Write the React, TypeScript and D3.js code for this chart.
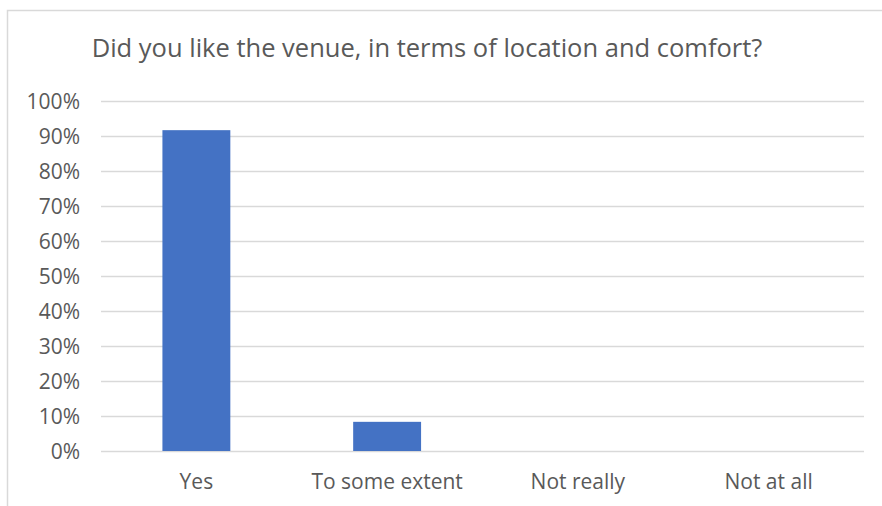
import { useEffect, useRef } from "react";
import * as d3 from "d3";

const title = "Did you like the venue, in terms of location and comfort?";
const categories = ["Yes", "To some extent", "Not really", "Not at all"];
const shares = [11 / 12, 1 / 12, 0, 0];
const yTicks = [0, 0.1, 0.2, 0.3, 0.4, 0.5, 0.6, 0.7, 0.8, 0.9, 1];

const width = 882;
const height = 506;
const margin = { top: 101, right: 18, bottom: 55, left: 101 };
const font = "'Open Sans', sans-serif";
const textColor = "#595959";
const gridColor = "#d9d9d9";
const barColor = "#4472c4";

const App = () => {
  const ref = useRef<SVGSVGElement>(null);

  useEffect(() => {
    const svg = d3.select(ref.current);
    svg.selectAll("*").remove();

    const x = d3
      .scaleBand()
      .domain(categories)
      .range([margin.left, width - margin.right])
      .paddingInner(0.644)
      .paddingOuter(0.322);
    const y = d3
      .scaleLinear()
      .domain([0, 1])
      .range([height - margin.bottom, margin.top]);

    // chart frame (right and bottom edges fall outside the crop)
    svg
      .append("rect")
      .attr("x", 7.5)
      .attr("y", 10.5)
      .attr("width", width + 20)
      .attr("height", height + 20)
      .attr("fill", "#fff")
      .attr("stroke", gridColor)
      .attr("stroke-width", 1.5);

    svg
      .append("text")
      .attr("x", 427)
      .attr("y", 57)
      .attr("text-anchor", "middle")
      .attr("font-family", font)
      .attr("font-size", 25.5)
      .attr("fill", textColor)
      .text(title);

    // gridlines + tick labels
    const yAxis = d3
      .axisLeft(y)
      .tickValues(yTicks)
      .tickFormat(d3.format(".0%"))
      .tickSize(-(width - margin.right - margin.left))
      .tickPadding(21);
    const gy = svg
      .append("g")
      .attr("transform", `translate(${margin.left},0)`)
      .call(yAxis);
    gy.select(".domain").remove();
    gy.selectAll(".tick line")
      .attr("stroke", gridColor)
      .attr("stroke-width", 1.5);
    gy.selectAll(".tick text")
      .attr("font-family", font)
      .attr("font-size", 21)
      .attr("fill", textColor)
      .attr("dy", "0.36em");

    svg
      .append("g")
      .selectAll("rect")
      .data(shares)
      .join("rect")
      .attr("x", (_, i) => x(categories[i])!)
      .attr("width", x.bandwidth())
      .attr("y", (d) => y(d))
      .attr("height", (d) => y(0) - y(d))
      .attr("fill", barColor);

    svg
      .append("g")
      .selectAll("text")
      .data(categories)
      .join("text")
      .attr("x", (d) => x(d)! + x.bandwidth() / 2)
      .attr("y", 489)
      .attr("text-anchor", "middle")
      .attr("font-family", font)
      .attr("font-size", 21)
      .attr("fill", textColor)
      .text((d) => d);
  }, []);

  return (
    <svg
      ref={ref}
      width={width}
      height={height}
      style={{ position: "absolute", left: 0, top: 0 }}
    ></svg>
  );
};

export default App;
